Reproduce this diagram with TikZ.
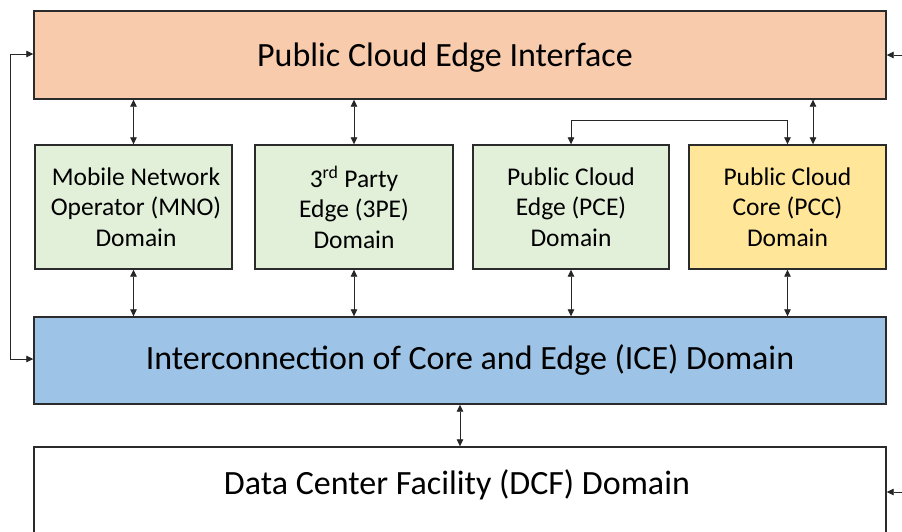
\documentclass[tikz,border=0pt]{standalone}
\usepackage{fontspec}
\setmainfont{Carlito}
\usetikzlibrary{arrows.meta}
\definecolor{peach}{HTML}{F8CBAD}
\definecolor{lgreen}{HTML}{E2F0D9}
\definecolor{lyellow}{HTML}{FFE699}
\definecolor{lblue}{HTML}{9DC3E6}
\definecolor{edgegray}{HTML}{2B2B2B}
\begin{document}
\begin{tikzpicture}[x=1pt,y=-1pt,
  box/.style={draw=edgegray, line width=1.4pt, inner sep=0pt},
  wide/.style={box, minimum width=852},
  bigtext/.style={inner sep=0pt, font=\fontsize{34}{40}\selectfont},
  dom/.style={box, minimum width=197, minimum height=124, align=center,
    font=\fontsize{25.5}{30.5}\selectfont},
  conn/.style={line width=0.8pt, draw=black!85,
    arrows={Triangle[width=6.5pt,length=7pt]-Triangle[width=6.5pt,length=7pt]}},
  oneway/.style={line width=0.8pt, draw=black!85,
    arrows={-Triangle[width=6.5pt,length=7pt]}}]
\useasboundingbox (0,0) rectangle (902,531);
\clip (0,0) rectangle (902,531);
\fill[white] (0,0) rectangle (902,531);

\node[wide, fill=peach, minimum height=88] (top) at (460,55) {};
\node[bigtext] (topt) at (445,58) {Public Cloud Edge Interface};
\node[dom, fill=lgreen] (mno) at (133.5,207) {\hspace*{5pt}Mobile Network\\\hspace*{5pt}Operator (MNO)\\\hspace*{5pt}Domain};
\node[dom, fill=lgreen, minimum width=198] (tpe) at (354,207) {3\textsuperscript{rd} Party\\Edge (3PE)\\Domain};
\node[dom, fill=lgreen, minimum width=196] (pce) at (571,207) {Public Cloud\\Edge (PCE)\\Domain};
\node[dom, fill=lyellow] (pcc) at (787.5,207) {Public Cloud\\Core (PCC)\\Domain};
\node[wide, fill=lblue, minimum height=87] (ice) at (460,360.5) {};
\node[bigtext] (icet) at (470,360) {Interconnection of Core and Edge (ICE) Domain};
\node[wide, fill=white, minimum height=120] (dcf) at (460,507) {};
\node[bigtext] (dcft) at (457,485) {Data Center Facility (DCF) Domain};

% top to middle
\draw[conn] (top.south -| mno.north) -- (mno.north);
\draw[conn] (top.south -| tpe.north) -- (tpe.north);
\draw[conn] ([xshift=25.5]pcc.north |- top.south) -- ([xshift=25.5]pcc.north);
\draw[conn] (pce.north) -- ++(0,-24) -| (pcc.north);

% middle to ICE
\draw[conn] (mno.south) -- (mno.south |- ice.north);
\draw[conn] (tpe.south) -- (tpe.south |- ice.north);
\draw[conn] (pce.south) -- (pce.south |- ice.north);
\draw[conn] (pcc.south) -- (pcc.south |- ice.north);

% ICE to DCF
\draw[conn] (ice.south) -- (dcf.north);

% left loop
\draw[conn] ([yshift=1]top.west) -- ++(-23,0) |- ([yshift=1.5]ice.west);

% right stubs
\coordinate (r1) at (905,55);
\coordinate (r2) at (905,492);
\draw[oneway] (r1) -- (top.east |- r1);
\draw[oneway] (r2) -- (dcf.east |- r2);
\end{tikzpicture}
\end{document}
